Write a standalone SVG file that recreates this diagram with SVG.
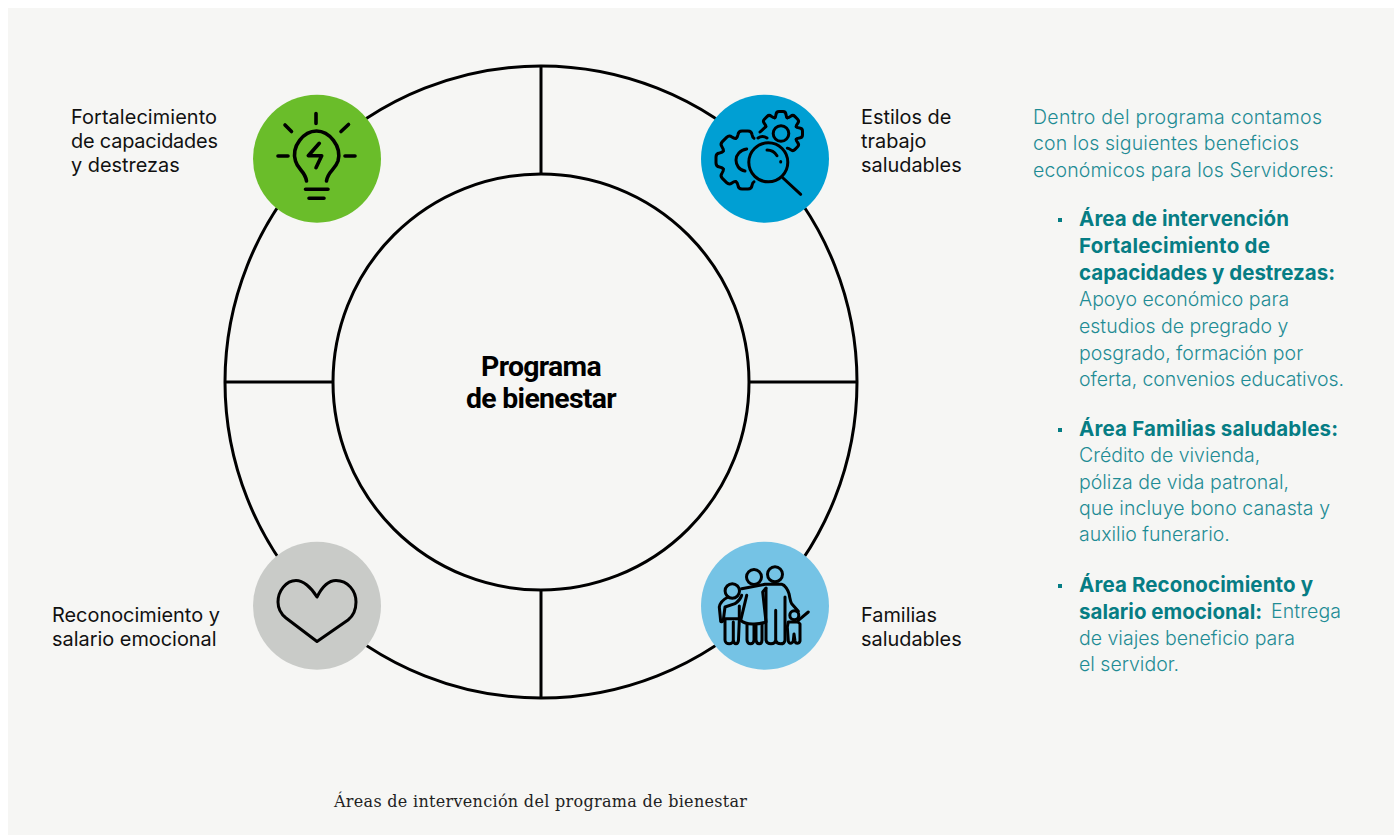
<svg xmlns="http://www.w3.org/2000/svg" width="1394" height="835" viewBox="0 0 1394 835">
<style>
.l{font-family:Inter,"Liberation Sans",sans-serif;font-size:19.9px;fill:#111}
.t{font-family:Inter,"Liberation Sans",sans-serif;font-size:19.5px;font-weight:300;fill:#1f8c94}
.b{font-weight:700;fill:#067d84;font-size:20.5px}
.i{fill:none;stroke:#000;stroke-width:3;stroke-linecap:round;stroke-linejoin:round}
.r{stroke-width:3.6}
.c{fill:none;stroke:#000;stroke-width:3}
</style>
<defs>
<path id="tooth-big" d="M-9 -21.700Q-7.500 -22.500 -7 -25.500Q-6.500 -29 -3 -29H3Q6.500 -29 7 -25.500Q7.500 -22.500 9 -21.700"/>
<path id="tooth-small" d="M-6.300 -15.200Q-5.300 -15.800 -5 -18.500Q-4.700 -21.500 -2 -21.500H2Q4.700 -21.500 5 -18.500Q5.300 -15.800 6.300 -15.200"/>
</defs>
<rect width="1394" height="835" fill="#fff"/>
<rect x="8" y="8" width="1386" height="827" fill="#f6f6f4"/>
<g id="connectors">
<circle class="c" cx="541" cy="382" r="316"/>
<circle class="c" cx="541" cy="382" r="208"/>
<path class="c" d="M541 66V174M541 590V698M225 382H333M749 382H857"/>
</g>
<g id="node-center"><text x="541" y="376" text-anchor="middle" font-family="Roboto,'Liberation Sans',sans-serif" font-size="28.400" font-weight="700" letter-spacing="-.7" fill="#000"><tspan x="541">Programa</tspan><tspan x="541" dy="32">de bienestar</tspan></text></g>
<g id="node-fortalecimiento">
<circle cx="317" cy="158.700" r="64" fill="#6abd2a"/>
<path class="i r" d="M316 113.500V123.500M285 125L291.500 131.500M348.500 124.500L341 131.500M278 156H288M345 156H355M305.500 189.300H328M309 198.300H324"/>
<path class="i r" d="M306.500 181C305 171 298 170 295.500 161C291 146 304 131 316.500 131C329 131 342 146 338 161C335 170 328 171 326.500 181M319.300 143.300L308.300 155.700H321.700L316 167.700"/>
</g>
<g id="node-estilos">
<circle cx="765" cy="158.700" r="64" fill="#009fd3"/>
<g class="i">
<g transform="translate(745 160)">
<use href="#tooth-big"/><use href="#tooth-big" transform="rotate(-45)"/><use href="#tooth-big" transform="rotate(-90)"/><use href="#tooth-big" transform="rotate(-135)"/><use href="#tooth-big" transform="rotate(180)"/>
</g>
<path d="M758 138C761 136 764 136 767 138M760 132L765.800 126.700"/>
<g transform="translate(781 133)">
<use href="#tooth-small" transform="rotate(-45)"/><use href="#tooth-small"/><use href="#tooth-small" transform="rotate(45)"/><use href="#tooth-small" transform="rotate(90)"/><use href="#tooth-small" transform="rotate(135)"/>
</g>
<circle cx="781" cy="133.500" r="7.800"/>
<path d="M746.700 149C740 150 736 155 736 160C736 165 739 170 745 171"/>
<circle cx="768.300" cy="162.300" r="19.500"/>
<path d="M783 178L800.700 194.300M767 150C771 150 775 152.500 777 155.700M780.700 161.500V162"/>
</g>
</g>
<g id="node-familias">
<circle cx="765" cy="605.700" r="64" fill="#75c3e5"/>
<g class="i">
<circle cx="732.300" cy="591" r="7.200"/><circle cx="754" cy="577" r="7.500"/><circle cx="775" cy="574.300" r="7.500"/>
<path d="M741.700 588.700L765 584.300H781.700C785 585 788 590 789 593.700C790 598 790 601 791.700 603.700L798.300 611.300"/>
<path d="M746.700 595.300L740.700 620.300C746 625 758 625 766 622L762.700 592L766 588"/>
<path d="M766 588.700V640.300C767 645 775 645 775.700 640.300V610.300V640.300C777 645 785 645 785 640.300V597"/>
<path d="M747 625V640C747 645 754 645 754 640V625.300M756 625.300V640C756.500 645 762 645 762 640V624"/>
<path d="M741.700 595.300C740 601 737 602 735 603.700L725 607L723.300 620.300C722.500 622 721 622 720.700 621.300L719.300 607C720 603 722 600 728.300 597"/>
<path d="M725 618.700H738.300M725 618.700V640C725 645 733.300 645 733.300 640V622M733.300 640C734 645 738 645 738.500 640L739.300 620V606"/>
<circle cx="794.300" cy="615.300" r="4.500"/>
<path d="M798.300 620.300L808.300 612M788.300 622H798L800 624V641C799 644 795.500 644 795 641L794 634L793.300 641C792 644 789 644 788.300 641L787.300 627Z"/>
</g>
</g>
<g id="node-reconocimiento">
<circle cx="317" cy="605.700" r="64" fill="#c9cbc8"/>
<path class="i" d="M317 597C311 587 303 580.500 296 580.500C286 580.500 278 591 278 602C278 608 281 614 286 618L317 641.500L348 620C353 616 356 609 356 602C356 591 348 580.500 336 580.500C329 580.500 322 587 317 597Z"/>
</g>
<text class="l" x="71" y="124" textLength="146">Fortalecimiento</text>
<text class="l" x="71" y="148" textLength="147">de capacidades</text>
<text class="l" x="71" y="172">y destrezas</text>
<text class="l" x="861" y="124">Estilos de</text>
<text class="l" x="861" y="148">trabajo</text>
<text class="l" x="861" y="172">saludables</text>
<text class="l" x="861" y="622">Familias</text>
<text class="l" x="861" y="646">saludables</text>
<text class="l" x="52" y="622">Reconocimiento y</text>
<text class="l" x="52" y="646">salario emocional</text>
<g id="text-panel">
<text class="t" x="1033" y="124" textLength="289">Dentro del programa contamos</text>
<text class="t" x="1033" y="150" textLength="266">con los siguientes beneficios</text>
<text class="t" x="1033" y="177" textLength="301">económicos para los Servidores:</text>
<rect x="1058" y="218" width="4" height="4" fill="#067d84"/>
<text class="t b" x="1079" y="226" textLength="210">Área de intervención</text>
<text class="t b" x="1079" y="253" textLength="191">Fortalecimiento de</text>
<text class="t b" x="1079" y="280" textLength="256">capacidades y destrezas:</text>
<text class="t" x="1079" y="306">Apoyo económico para</text>
<text class="t" x="1079" y="333">estudios de pregrado y</text>
<text class="t" x="1079" y="360">posgrado, formación por</text>
<text class="t" x="1079" y="386" textLength="265">oferta, convenios educativos.</text>
<rect x="1058" y="428" width="4" height="4" fill="#067d84"/>
<text class="t b" x="1079" y="436" textLength="259">Área Familias saludables:</text>
<text class="t" x="1079" y="462">Crédito de vivienda,</text>
<text class="t" x="1079" y="489">póliza de vida patronal,</text>
<text class="t" x="1079" y="515" textLength="251">que incluye bono canasta y</text>
<text class="t" x="1079" y="541">auxilio funerario.</text>
<rect x="1058" y="584" width="4" height="4" fill="#067d84"/>
<text class="t b" x="1079" y="592" textLength="234">Área Reconocimiento y</text>
<text class="t b" x="1079" y="619">salario emocional:</text>
<text class="t" x="1271" y="618" textLength="70">Entrega</text>
<text class="t" x="1079" y="645">de viajes beneficio para</text>
<text class="t" x="1079" y="671">el servidor.</text>
</g>
<text x="334" y="807" font-family="'DejaVu Serif',serif" font-size="16" textLength="413" fill="#222">Áreas de intervención del programa de bienestar</text>
</svg>
